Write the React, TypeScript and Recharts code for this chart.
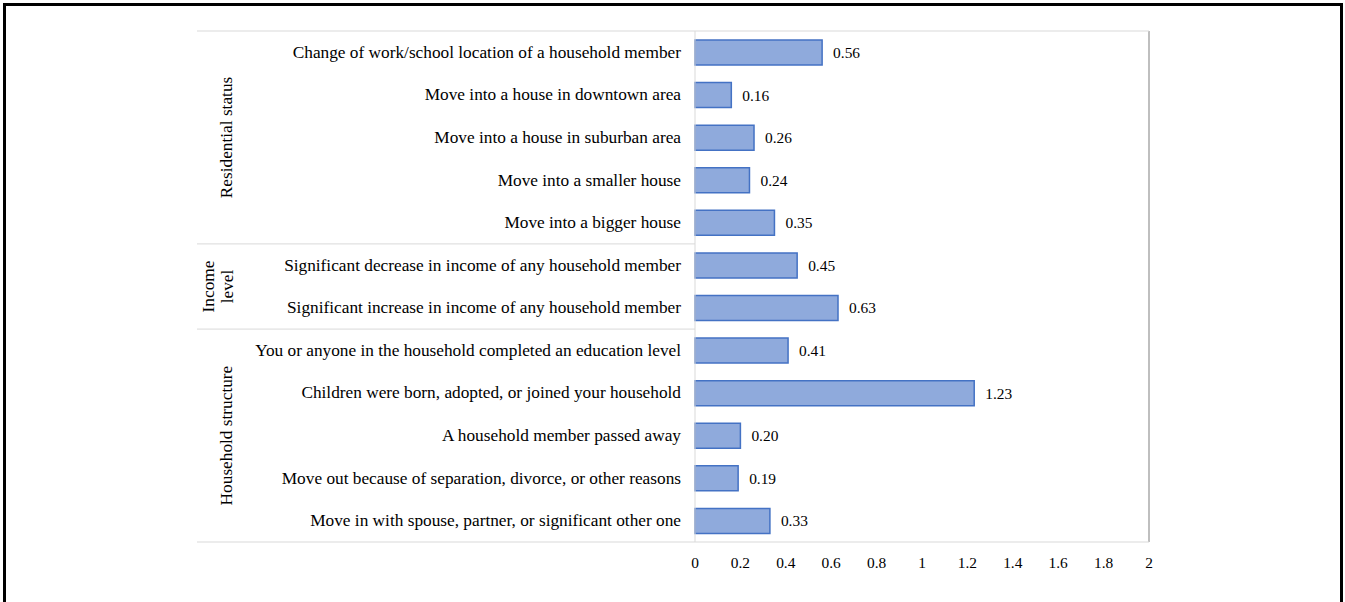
import React from 'react';
import { BarChart, Bar, XAxis, YAxis, LabelList, ReferenceLine } from 'recharts';

const categories = [
  'Change of work/school location of a household member',
  'Move into a house in downtown area',
  'Move into a house in suburban area',
  'Move into a smaller house',
  'Move into a bigger house',
  'Significant decrease in income of any household member',
  'Significant increase in income of any household member',
  'You or anyone in the household completed an education level',
  'Children were born, adopted, or joined your household',
  'A household member passed away',
  'Move out because of separation, divorce, or other reasons',
  'Move in with spouse, partner, or significant other one',
];
const values = [0.56, 0.16, 0.26, 0.24, 0.35, 0.45, 0.63, 0.41, 1.23, 0.2, 0.19, 0.33];
const groups = [
  { lines: ['Residential status'], start: 0, count: 5 },
  { lines: ['Income', 'level'], start: 5, count: 2 },
  { lines: ['Household structure'], start: 7, count: 5 },
];
const xTicks = [0, 0.2, 0.4, 0.6, 0.8, 1, 1.2, 1.4, 1.6, 1.8, 2];

const data = categories.map((name, i) => ({ name, value: values[i] }));

const W = 1345;
const H = 602;
const M = { top: 31, right: 196, bottom: 30, left: 197 };
const Y_AXIS_W = 498;
const X_AXIS_H = 30;
const PLOT_LEFT = M.left + Y_AXIS_W;
const PLOT_RIGHT = W - M.right;
const PLOT_BOTTOM = H - M.bottom - X_AXIS_H;
const BAND = (PLOT_BOTTOM - M.top) / categories.length;
const FONT = "'Liberation Serif', 'Times New Roman', serif";
const LINE_COLOR = '#d9d9d9';

const CategoryTick = (props: any) => {
  const { y, payload, index } = props;
  const top = y - BAND / 2;
  const g = groups.find((gr) => gr.start === index);
  return (
    <g>
      <text
        x={PLOT_LEFT - 14}
        y={y}
        textAnchor="end"
        dominantBaseline="central"
        fontFamily={FONT}
        fontSize={17.3}
        fill="#000"
      >
        {payload.value}
      </text>
      {g && (
        <line
          x1={M.left}
          x2={index === 0 ? PLOT_RIGHT : PLOT_LEFT}
          y1={top}
          y2={top}
          stroke={LINE_COLOR}
          strokeWidth={1}
        />
      )}
      {g &&
        g.lines.map((ln, i) => {
          const cy = top + (g.count * BAND) / 2;
          const lx = 227 - (g.lines.length - 1 - i) * 19;
          return (
            <text
              key={i}
              x={lx}
              y={cy}
              transform={`rotate(-90 ${lx} ${cy})`}
              textAnchor="middle"
              dominantBaseline="central"
              fontFamily={FONT}
              fontSize={17.3}
              fill="#000"
            >
              {ln}
            </text>
          );
        })}
      {index === categories.length - 1 && (
        <line
          x1={M.left}
          x2={PLOT_LEFT}
          y1={y + BAND / 2}
          y2={y + BAND / 2}
          stroke={LINE_COLOR}
          strokeWidth={1}
        />
      )}
    </g>
  );
};

export default function App() {
  return (
    <div style={{ position: 'absolute', left: 0, top: 0, width: W, height: H, background: '#fff' }}>
      <div style={{ position: 'absolute', left: 3, top: 3, width: 1340, height: 3, background: '#000' }} />
      <div style={{ position: 'absolute', left: 3, top: 3, width: 3, height: H - 3, background: '#000' }} />
      <div style={{ position: 'absolute', left: 1340, top: 3, width: 3, height: H - 3, background: '#000' }} />
      <div style={{ position: 'absolute', left: 0, top: 0 }}>
        <BarChart width={W} height={H} data={data} layout="vertical" margin={M} barCategoryGap={0}>
          <XAxis
            type="number"
            domain={[0, 2]}
            ticks={xTicks}
            interval={0}
            height={X_AXIS_H}
            tickLine={false}
            tickSize={0}
            tickMargin={15}
            axisLine={{ stroke: LINE_COLOR }}
            tick={{ fontFamily: FONT, fontSize: 15.4, fill: '#000' }}
          />
          <YAxis
            type="category"
            dataKey="name"
            width={Y_AXIS_W}
            interval={0}
            tickLine={false}
            axisLine={{ stroke: LINE_COLOR }}
            tick={<CategoryTick />}
          />
          <ReferenceLine x={2} stroke="#bfbfbf" strokeWidth={2} />
          <Bar
            dataKey="value"
            fill="#8FAADC"
            stroke="#4472C4"
            strokeWidth={1.5}
            barSize={25}
            isAnimationActive={false}
          >
            <LabelList
              dataKey="value"
              position="right"
              offset={11}
              formatter={(v: any) => Number(v).toFixed(2)}
              style={{ fontFamily: FONT, fontSize: 15.4, fill: '#000' }}
            />
          </Bar>
        </BarChart>
      </div>
    </div>
  );
}
